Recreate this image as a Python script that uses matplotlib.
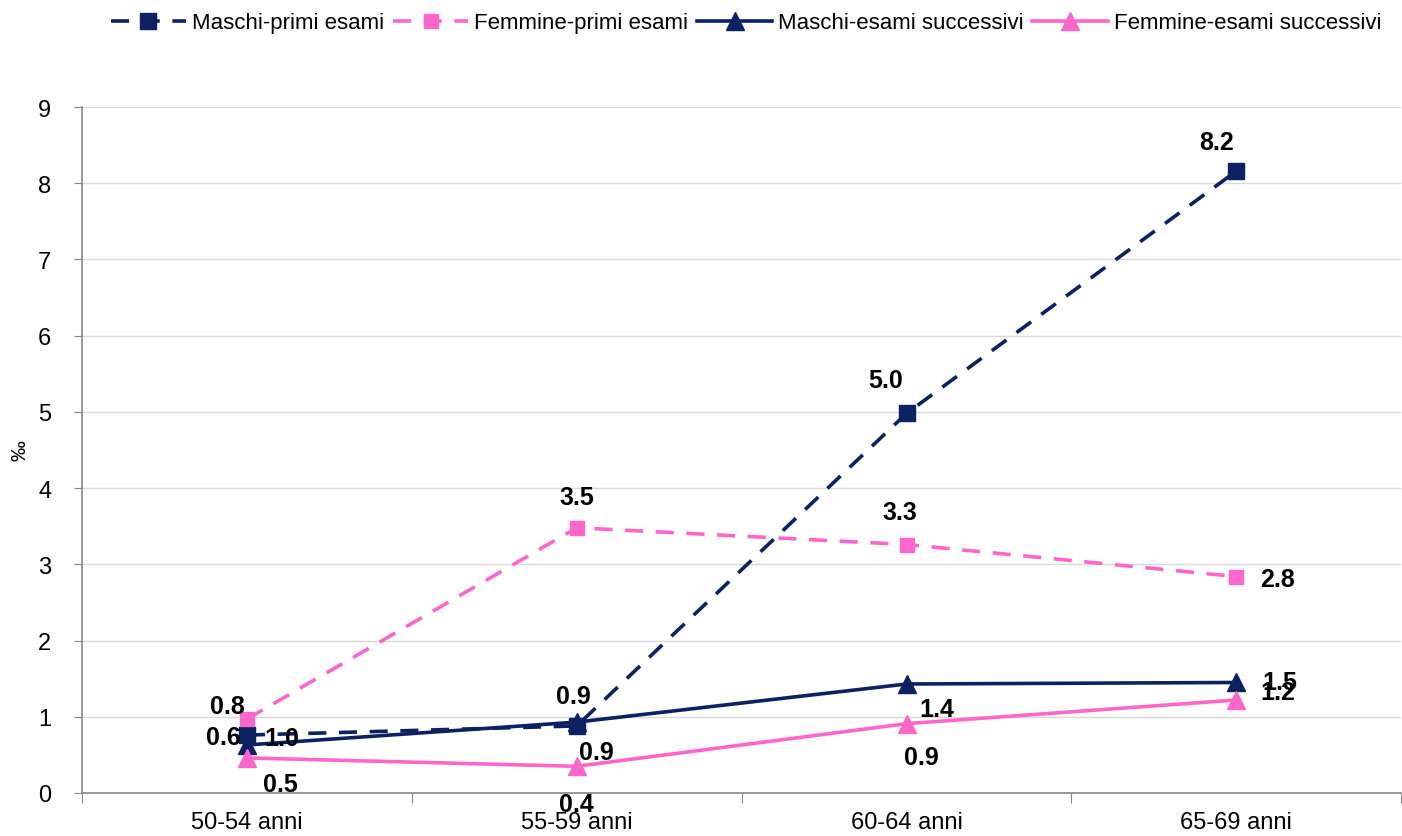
import matplotlib.pyplot as plt
from matplotlib.ticker import FixedLocator, NullFormatter

plt.rcParams["font.family"] = ["Liberation Sans", "DejaVu Sans"]

categories = ["50-54 anni", "55-59 anni", "60-64 anni", "65-69 anni"]

maschi_primi = [0.76, 0.88, 4.98, 8.16]
femmine_primi = [0.97, 3.48, 3.26, 2.84]
maschi_successivi = [0.63, 0.93, 1.43, 1.45]
femmine_successivi = [0.46, 0.35, 0.91, 1.22]

maschi_primi_labels = ["0.8", "0.9", "5.0", "8.2"]
femmine_primi_labels = ["1.0", "3.5", "3.3", "2.8"]
maschi_successivi_labels = ["0.6", "0.9", "1.4", "1.5"]
femmine_successivi_labels = ["0.5", "0.4", "0.9", "1.2"]

NAVY = "#0b2161"
PINK = "#ff66cc"

fig = plt.figure(figsize=(14.02, 8.37), dpi=100)
ax = fig.add_axes([82 / 1402, 43 / 837, 1 - 82 / 1402 - 0.0005, 686 / 837])

x = list(range(len(categories)))

series = [
    (maschi_primi, maschi_primi_labels, NAVY, (0, (5, 3.5)), "s", 12,
     "Maschi-primi esami",
     [(-20, 29), (-3, 30), (-21, 33), (-20, 29)]),
    (femmine_primi, femmine_primi_labels, PINK, (0, (5, 3.5)), "s", 10.5,
     "Femmine-primi esami",
     [(35, -19), (0, 31), (-7, 33), (41, -2)]),
    (maschi_successivi, maschi_successivi_labels, NAVY, "-", "^", 13,
     "Maschi-esami successivi",
     [(-24, 8), (20, -30), (30, -25), (43, 0)]),
    (femmine_successivi, femmine_successivi_labels, PINK, "-", "^", 13,
     "Femmine-esami successivi",
     [(33, -26), (0, -38), (15, -33), (41, 8)]),
]

for values, labels, color, ls, marker, ms, name, offsets in series:
    ax.plot(x, values, color=color, linestyle=ls, linewidth=2.6, marker=marker,
            markersize=ms, markeredgecolor=color, markerfacecolor=color,
            label=name, clip_on=False, zorder=3)
    for xi, v, lab, off in zip(x, values, labels, offsets):
        ax.annotate(lab, (xi, v), xytext=off, textcoords="offset pixels",
                    ha="center", va="center", fontsize=18, fontweight="bold",
                    color="black", zorder=5, annotation_clip=False)

ax.set_xlim(-0.5, 3.5)
ax.set_ylim(0, 9)
ax.set_yticks(range(10))
ax.tick_params(axis="y", labelsize=17, length=6, color="#888888", pad=16)
ax.grid(axis="y", color="#d9d9d9", linewidth=1)
ax.set_axisbelow(True)

ax.xaxis.set_major_locator(FixedLocator([-0.5, 0.5, 1.5, 2.5, 3.5]))
ax.xaxis.set_major_formatter(NullFormatter())
ax.xaxis.set_minor_locator(FixedLocator(x))
ax.set_xticklabels(categories, minor=True)
ax.tick_params(axis="x", which="major", length=7, color="#888888")
ax.tick_params(axis="x", which="minor", length=0, labelsize=17, pad=13)

for side in ("top", "right"):
    ax.spines[side].set_visible(False)
for side in ("left", "bottom"):
    ax.spines[side].set_color("#888888")
    ax.spines[side].set_linewidth(1.2)

ax.set_ylabel("‰", fontsize=15, labelpad=6)

fig.legend(loc="upper center", bbox_to_anchor=(0.532, 1.008), ncol=4,
           frameon=False, fontsize=16, handlelength=3.4, handletextpad=0.25,
           columnspacing=0.4)

fig.savefig("out.png", dpi=100)
